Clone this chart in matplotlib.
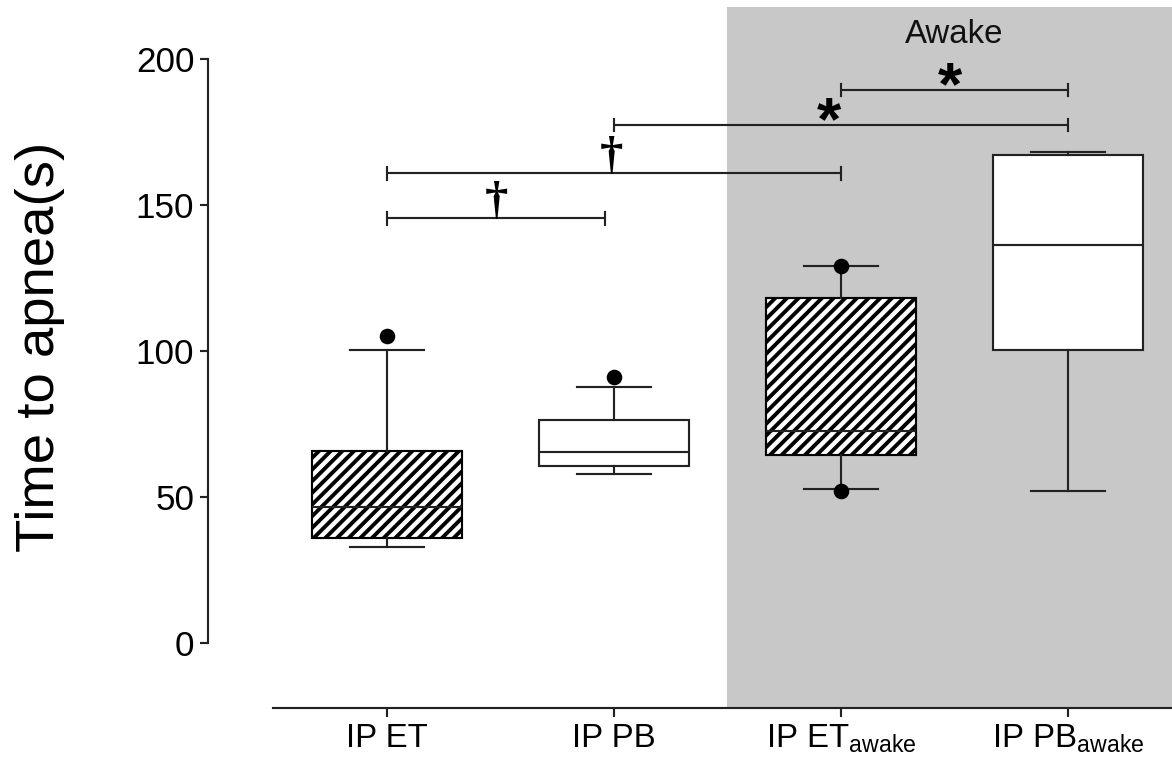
import matplotlib
matplotlib.use('Agg')
import matplotlib.pyplot as plt

# ---------------- data ----------------
groups = ['IP ET', 'IP PB', 'IP ET awake', 'IP PB awake']
tick_labels = ['IP ET', 'IP PB', r'IP ET$_{\mathregular{awake}}$', r'IP PB$_{\mathregular{awake}}$']
q1 = [36.1, 60.7, 64.5, 100.5]
median = [46.7, 65.4, 72.5, 136.2]
q3 = [65.6, 76.3, 118.0, 167.0]
whisker_low = [32.9, 58.0, 52.8, 52.1]
whisker_high = [100.3, 87.7, 129.1, 168.2]
outliers = [[105.0], [91.0], [129.1, 51.9], []]
hatched = [True, False, True, False]

sig_x1 = [1.0, 1.0, 2.0, 3.0]
sig_x2 = [1.96, 3.0, 4.0, 4.0]
sig_y = [145.4, 160.9, 177.4, 189.4]
sig_symbol = ['†', '†', '*', '*']
sig_symbol_x = [1.483, 1.99, 2.947, 3.48]

yticks = [0, 50, 100, 150, 200]

# ---------------- style ----------------
DPI = 140
plt.rcParams['font.family'] = ['Liberation Sans', 'DejaVu Sans']
plt.rcParams['mathtext.fontset'] = 'custom'
plt.rcParams['mathtext.rm'] = 'Liberation Sans'
plt.rcParams['hatch.linewidth'] = 2.0
plt.rcParams['hatch.color'] = 'black'

LINE = '#222222'
LW = 1.1
GRAY = '#c8c8c8'

fig = plt.figure(figsize=(1172 / DPI, 761 / DPI), dpi=DPI)
ax = fig.add_axes([273 / 1172, 53 / 761, 899 / 1172, 701 / 761])

xlim = (0.498, 4.458)
ax.set_xlim(*xlim)
ax.set_ylim(-22.26, 217.8)

ax.axvspan(2.5, xlim[1], color=GRAY, zorder=0, lw=0)
ax.text(3.5, 205.5, 'Awake', ha='center', va='baseline', fontsize=17, color='#111111')

stats = []
for i, g in enumerate(groups):
    stats.append(dict(label=g, med=median[i], q1=q1[i], q3=q3[i],
                      whislo=whisker_low[i], whishi=whisker_high[i],
                      fliers=outliers[i]))

bp = ax.bxp(stats, positions=[1, 2, 3, 4], widths=0.66, capwidths=0.33,
            patch_artist=True, showfliers=True,
            boxprops=dict(facecolor='white', edgecolor=LINE, linewidth=LW),
            medianprops=dict(color=LINE, linewidth=LW),
            whiskerprops=dict(color=LINE, linewidth=LW),
            capprops=dict(color=LINE, linewidth=LW),
            flierprops=dict(marker='o', markerfacecolor='black', markeredgecolor='black',
                            markersize=7))
for box, h in zip(bp['boxes'], hatched):
    if h:
        box.set_hatch('////')
        box.set_edgecolor('black')

# significance bars
cap = 2.2
for x1, x2, y, s, sx in zip(sig_x1, sig_x2, sig_y, sig_symbol, sig_symbol_x):
    ax.plot([x1, x2], [y, y], color=LINE, lw=LW, solid_capstyle='butt')
    ax.plot([x1, x1], [y - cap, y + cap], color=LINE, lw=LW)
    ax.plot([x2, x2], [y - cap, y + cap], color=LINE, lw=LW)
    if s == '†':
        ax.text(sx, y - 1.5, s, ha='center', va='bottom', fontsize=24,
                family=['Liberation Serif', 'DejaVu Serif'], fontweight='bold',
                color='black')
    else:
        ax.text(sx, y - 5.0, s, ha='center', va='baseline', fontsize=32,
                fontweight='bold', color='black')

# axes
for s in ['top', 'right']:
    ax.spines[s].set_visible(False)
ax.spines['left'].set_position(('outward', 33.4))
ax.spines['left'].set_bounds(0, 200)
ax.spines['left'].set_linewidth(LW)
ax.spines['left'].set_color(LINE)
ax.spines['bottom'].set_linewidth(LW)
ax.spines['bottom'].set_color(LINE)

ax.set_xticks([1, 2, 3, 4])
ax.set_xticklabels(tick_labels)
ax.set_yticks(yticks)
ax.set_yticklabels([str(t) for t in yticks])
ax.tick_params(axis='y', direction='out', length=4.1, width=LW, color=LINE, pad=3,
               labelsize=18)
ax.tick_params(axis='x', direction='out', length=4.6, width=LW, color=LINE, pad=3,
               labelsize=17)
ax.patch.set_alpha(0)

ax.set_ylabel('Time to apnea(s)', fontsize=28, ha='center', va='center')
ax.yaxis.set_label_coords((40 - 273) / 899, (708 - 347) / 701)

fig.savefig('out.png', dpi=DPI)
